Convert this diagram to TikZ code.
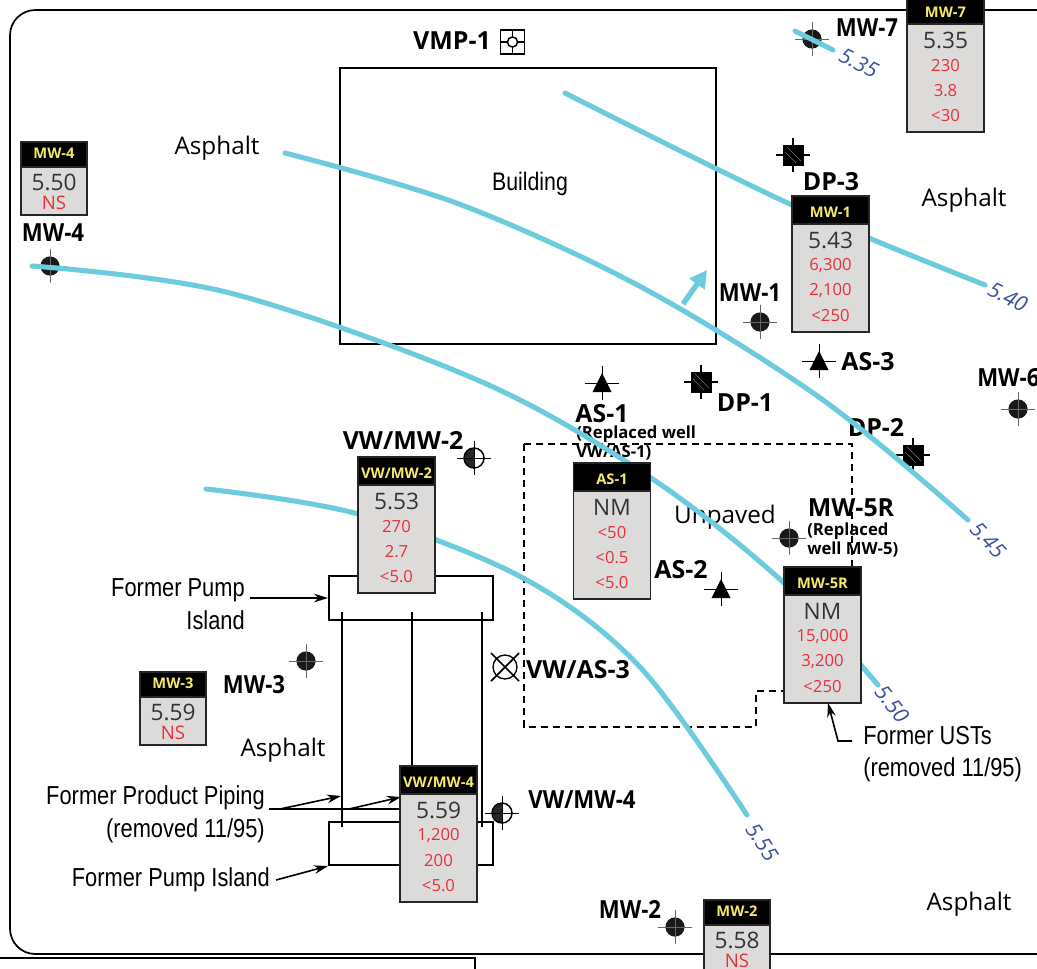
\documentclass[tikz,border=0pt]{standalone}
\usepackage{fontspec}
\setmainfont{Open Sans}
\newfontfamily\narrowf[FakeStretch=0.84]{Liberation Sans}
\newfontfamily\mwf[FakeStretch=0.89]{Open Sans}
\usetikzlibrary{arrows.meta}
\definecolor{cont}{HTML}{6CCBDD}
\definecolor{boxg}{HTML}{DCDBDA}
\definecolor{hdry}{HTML}{F5E96B}
\definecolor{valr}{HTML}{E8303A}
\definecolor{vald}{HTML}{333333}
\definecolor{contl}{HTML}{3B4FA0}
\tikzset{
 x=0.75pt,y=-0.75pt,
 lbl/.style={font=\fontsize{18.7}{20}\selectfont\bfseries,inner sep=0pt,text=black},
 mwlbl/.style={font=\fontsize{18.7}{20}\mwf\bfseries,inner sep=0pt,text=black},
 sublbl/.style={font=\fontsize{12.5}{14}\selectfont\bfseries,inner sep=0pt,anchor=west,text=black},
 plain/.style={font=\fontsize{18.2}{20}\selectfont,inner sep=0pt,text=black},
 narrow/.style={font=\fontsize{19.5}{22}\narrowf,inner sep=0pt,text=black},
 contour/.style={draw=cont,line width=3.8pt,line cap=round},
 contlab/.style={font=\fontsize{16}{18}\selectfont\itshape,text=contl,inner sep=0pt},
 boxbody/.style={draw=black!85,fill=boxg,line width=1.2pt,inner sep=0pt,anchor=north},
 boxhead/.style={draw=black!85,fill=black,line width=1.2pt,inner sep=0pt,anchor=north},
 boxtitle/.style={text=hdry,inner sep=0pt,font=\fontsize{11}{12}\selectfont\bfseries},
 valbig/.style={font=\fontsize{17}{19}\selectfont,text=vald,inner sep=0pt},
 valsm/.style={font=\fontsize{12.5}{14}\selectfont,text=valr,inner sep=0pt},
 hair/.style={draw=black!60,line width=0.5pt},
 ptr/.style={draw=black,line width=1.2pt,-{Stealth[length=10.5pt,width=6.5pt]}},
}
\newcommand\wellbig[7]{%
 \node[boxbody,minimum width=57.5pt,minimum height=102pt] (#1) at (#2,#3) {};
 \node[boxhead,minimum width=57.5pt,minimum height=21pt] (#1h) at (#2,#3) {};
 \node[boxtitle] (#1t) at ({#2},{#3+17}) {#4};
 \node[valbig] (#1a) at ({#2},{#3+45.5}) {#5};
 \node[valsm] (#1b) at ({#2},{#3+70.5}) {#6};
 \node[valsm] (#1c) at ({#2},{#3+96}) {#7};
 \wellnext{#1}{#2}{#3}}
\newcommand\wellnext[4]{\node[valsm] (#1d) at ({#2},{#3+121}) {#4};}
\newcommand\wellsmall[6]{%
 \node[boxbody,minimum width=49.5pt,minimum height=55pt] (#1) at (#2,#3) {};
 \node[boxhead,minimum width=49.5pt,minimum height=19pt] (#1h) at (#2,#3) {};
 \node[boxtitle] (#1t) at ({#2},{#3+12.5}) {#4};
 \node[valbig] (#1a) at ({#2},{#3+41}) {#5};
 \node[valsm,font=\fontsize{14}{16}\selectfont] (#1b) at ({#2},{#3+62}) {#6};}
\newcommand\crossh[3]{%
 \draw[hair] ({#1-#3},#2) -- ({#1+#3},#2) ({#1},{#2-#3}) -- ({#1},{#2+#3});}
\newcommand\wellm[2]{%
 \fill[black!90] (#1,#2) circle (7.2pt);
 \crossh{#1}{#2}{17}}
\newcommand\dpm[2]{%
 \fill[black] ({#1-10.5},{#2-10.5}) rectangle ({#1+10.5},{#2+10.5});
 \draw[black,line width=0.8pt] ({#1-17},#2) -- ({#1+17},#2) ({#1},{#2-17}) -- ({#1},{#2+17});
 \draw[black!55,line width=0.3pt] ({#1-6},{#2-8}) -- ({#1+8},{#2+6}) ({#1-8},{#2-3}) -- ({#1+3},{#2+8});}
\newcommand\asm[2]{%
 \fill[black] ({#1},{#2-10}) -- ({#1+9.5},{#2+9}) -- ({#1-9.5},{#2+9}) -- cycle;
 \draw[black,line width=0.5pt] ({#1-17},#2) -- ({#1+17},#2) ({#1},{#2-17}) -- ({#1},{#2+17});}
\newcommand\vwm[2]{%
 \fill[black!85] ({#1},{#2-10}) arc (90:270:7.5pt) -- cycle;
 \draw[black,line width=1.1pt] (#1,#2) circle (7.5pt);
 \draw[black,line width=0.5pt] ({#1-17},#2) -- ({#1+17},#2) ({#1},{#2-17}) -- ({#1},{#2+17});}
\begin{document}
\begin{tikzpicture}
\clip (0,0) rectangle (1037,968);
\fill[white] (0,0) rectangle (1037,968);
% frame
\draw[black,line width=1.3pt,rounded corners=19pt] (1060,10) -- (10,10) -- (10,954) -- (1060,954);
\draw[black,line width=1.3pt] (-5,958) -- (475,958) -- (475,975);
% building
\node[draw=black,line width=1.2pt,minimum width=282pt,minimum height=207pt,inner sep=0pt] (bldg) at (528,206) {};
\node[font=\fontsize{19}{20}\narrowf,inner sep=0pt] (bldgt) at (530,184) {Building};
% dashed area
\draw[black,line width=1.1pt,dash pattern=on 5.5pt off 3.5pt] (524,444) -- (852,444) -- (852,570);
\draw[black,line width=1.1pt,dash pattern=on 5.5pt off 3.5pt] (524,444) -- (524,727) -- (756,727) -- (756,691) -- (786,691);
% pump islands and piping
\node[draw=black,line width=1.1pt,minimum width=123pt,minimum height=33pt,inner sep=0pt] (isl1) at (411,598) {};
\node[draw=black,line width=1.1pt,minimum width=123pt,minimum height=32.5pt,inner sep=0pt] (isl2) at (411,843.5) {};
\coordinate (pa1) at (342,612); \coordinate (pa2) at (342,827);
\coordinate (pb1) at (412,612); \coordinate (pb2) at (412,770);
\coordinate (pc1) at (482,612); \coordinate (pc2) at (482,827);
\draw[black,line width=1.1pt] (pa1) -- (pa2) (pb1) -- (pb2) (pc1) -- (pc2);
\coordinate (ln0) at (269,809); \coordinate (ln1) at (402,809);
\draw[black,line width=1.1pt] (ln0) -- (ln1);
% plain labels
\node[plain] (t1) at (217,148) {Asphalt};
\node[plain] (t2) at (964,200) {Asphalt};
\node[plain] (t3) at (725,517) {Unpaved};
\node[plain] (t4) at (283,750) {Asphalt};
\node[plain] (t5) at (969,904) {Asphalt};
\node[narrow,anchor=east] (f1) at (245,590) {Former Pump};
\node[narrow,anchor=east] (f2) at (245,620) {Island};
\node[narrow,anchor=east] (f3) at (265,798) {Former Product Piping};
\node[narrow,anchor=east] (f4) at (265,831) {(removed 11/95)};
\node[narrow,anchor=east] (f5) at (270,880) {Former Pump Island};
\node[narrow,anchor=west] (f6) at (863,736) {Former USTs};
\node[narrow,anchor=west] (f7) at (863,770) {(removed 11/95)};
% arrows
\coordinate (a1s) at (250,598); \coordinate (a1e) at (328,598);
\draw[ptr] (a1s) -- (a1e);
\coordinate (a2s) at (280,809); \coordinate (a2e) at (341,796);
\draw[ptr] (a2s) -- (a2e);
\coordinate (a3s) at (349,809); \coordinate (a3e) at (401,797);
\draw[ptr] (a3s) -- (a3e);
\coordinate (a4s) at (276,880); \coordinate (a4e) at (328,866);
\draw[ptr] (a4s) -- (a4e);
% markers
\wellm{812}{39} \wellm{50}{266} \wellm{760}{322} \wellm{1018}{409}
\wellm{789}{538} \wellm{306}{661} \wellm{675}{927}
\dpm{793}{155} \dpm{701}{382} \dpm{913}{455}
\asm{602}{383} \asm{819}{361} \asm{721}{589}
\vwm{474}{458} \vwm{502}{813}
% VW/AS-3
\draw[black,line width=1pt] (505,667) circle (9pt);
\draw[black,line width=1.3pt] (491,653) -- (519,681) (491,681) -- (519,653);
% VMP-1
\node[draw=black,line width=1.2pt,minimum size=18pt,inner sep=0pt] (vmp) at (512.5,42) {};
\draw[black,line width=1.1pt] (vmp.west) -- (vmp.east) (vmp.north) -- (vmp.south);
\draw[black,line width=1.1pt,fill=white] (vmp.center) circle (3.8pt);
% bold labels
\node[lbl] (l1) at (452,41) {VMP-1};
\node[mwlbl] (l2) at (867,28) {MW-7};
\node[lbl] (l3) at (831,182) {DP-3};
\node[mwlbl] (l4) at (750,293) {MW-1};
\node[lbl] (l5) at (868,362) {AS-3};
\node[mwlbl,anchor=west] (l6) at (977,378) {MW-6};
\node[lbl] (l7) at (745,403) {DP-1};
\node[lbl] (l8) at (876,427) {DP-2};
\node[mwlbl] (l9) at (53,233) {MW-4};
\node[lbl] (l10) at (403,440) {VW/MW-2};
\node[lbl] (l11) at (602,414) {AS-1};
\node[sublbl] (l12) at (576,434) {(Replaced well};
\node[sublbl] (l13) at (576,453) {VW/AS-1)};
\node[lbl] (l14) at (851,508) {MW-5R};
\node[sublbl] (l15) at (807,531) {(Replaced};
\node[sublbl] (l16) at (807,549) {well MW-5)};
\node[lbl] (l17) at (681,570) {AS-2};
\node[lbl] (l18) at (578,670) {VW/AS-3};
\node[mwlbl] (l19) at (254,685) {MW-3};
\node[mwlbl] (l20) at (582,800) {VW/MW-4};
\node[mwlbl] (l21) at (630,909) {MW-2};
% contours
\draw[contour] (795,31) -- (833,50);
\draw[contour] plot[smooth,tension=0.55] coordinates {(565,93) (792,205) (985,285)};
\draw[contour] plot[smooth,tension=0.55] coordinates {(285,153) (459,204) (643,288) (823,400) (968,520)};
\draw[contour] plot[smooth,tension=0.55] coordinates {(32,266) (230,293) (482,382) (651,478) (784,583) (878,685)};
\draw[contour] plot[smooth,tension=0.55] coordinates {(206,489) (358,514) (523,578) (640,667) (747,815)};
\coordinate (fl1) at (683,304); \coordinate (fl2) at (707,270);
\draw[draw=cont,line width=4pt,-{Triangle[length=13pt,width=13.5pt]}] (fl1) -- (fl2);
\node[contlab,rotate=-27] (c1) at (859,63) {5.35};
\node[contlab,rotate=-27] (c2) at (1008,297) {5.40};
\node[contlab,rotate=-47] (c3) at (988,540) {5.45};
\node[contlab,rotate=-52] (c4) at (892,704) {5.50};
\node[contlab,rotate=-57] (c5) at (762,842) {5.55};
% data boxes
\wellbig{mw7}{945.5}{-5}{MW-7}{5.35}{230}{3.8}{{<}30}
\wellbig{mw1}{830.5}{195}{MW-1}{5.43}{6,300}{2,100}{{<}250}
\wellbig{vw2}{396.5}{456}{VW/MW-2}{5.53}{270}{2.7}{{<}5.0}
\wellbig{as1}{612}{462}{AS-1}{NM}{{<}50}{{<}0.5}{{<}5.0}
\wellbig{mw5}{822.5}{566}{MW-5R}{NM}{15,000}{3,200}{{<}250}
\wellbig{vw4}{438.5}{765}{VW/MW-4}{5.59}{1,200}{200}{{<}5.0}
\wellsmall{mw4}{54}{141}{MW-4}{5.50}{NS}
\wellsmall{mw3}{173}{671}{MW-3}{5.59}{NS}
\wellsmall{mw2}{737}{899}{MW-2}{5.58}{NS}
% UST arrow over box
\coordinate (u0) at (852,741); \coordinate (u1) at (838,741); \coordinate (u2) at (828,703);
\draw[ptr] (u0) -- (u1) -- (u2);
\end{tikzpicture}
\end{document}
